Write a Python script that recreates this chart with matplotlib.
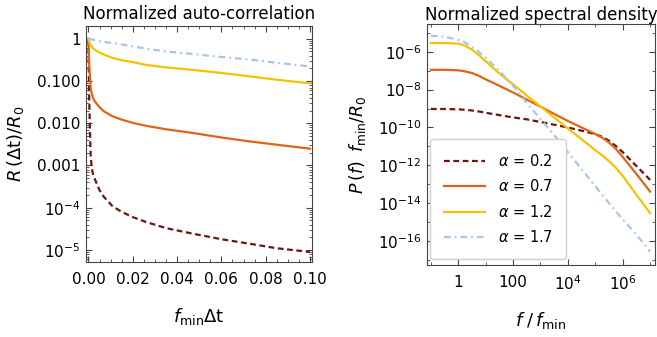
import numpy as np
import matplotlib
matplotlib.use('Agg')
from matplotlib import pyplot as plt
from matplotlib.ticker import FixedLocator, FixedFormatter, NullFormatter

# left panel: normalized auto-correlation vs f_min * dt
dt = [0.0, 0.0003, 0.0007, 0.001, 0.0015, 0.002, 0.003, 0.005, 0.007, 0.011,
      0.015, 0.02, 0.026, 0.035, 0.046, 0.06, 0.073, 0.085, 0.1]
acf_02 = [1, 0.05, 0.006, 0.0018, 8.5e-4, 6.5e-4, 4.6e-4, 2.6e-4, 1.8e-4, 1.07e-4,
          8e-5, 6.0e-5, 4.6e-5, 3.3e-5, 2.5e-5, 1.8e-5, 1.4e-5, 1.1e-5, 9e-6]
acf_07 = [1, 0.3, 0.12, 0.07, 0.05, 0.04, 0.032, 0.024, 0.019, 0.0145,
          0.0122, 0.0102, 0.0087, 0.0072, 0.0060, 0.0046, 0.0037, 0.0031, 0.0025]
acf_12 = [1, 0.85, 0.75, 0.7, 0.65, 0.6, 0.54, 0.47, 0.42, 0.35,
          0.31, 0.28, 0.24, 0.21, 0.185, 0.155, 0.128, 0.107, 0.088]
acf_17 = [1, 0.99, 0.98, 0.97, 0.96, 0.95, 0.93, 0.88, 0.84, 0.79,
          0.73, 0.66, 0.58, 0.50, 0.44, 0.37, 0.32, 0.27, 0.22]

# right panel: normalized spectral density vs f / f_min
freq = [0.1, 0.316, 1, 1.78, 3.16, 5.62, 10, 31.6, 100, 316, 1e3, 3.16e3, 1e4, 3.16e4,
        1e5, 1.78e5, 3.16e5, 5.62e5, 1e6, 3.16e6, 1e7]
psd_02 = [9.5e-10, 9.5e-10, 9.1e-10, 8.6e-10, 7.9e-10, 7.0e-10, 6.0e-10, 4.5e-10, 3.4e-10,
          2.7e-10, 1.95e-10, 1.4e-10, 1.0e-10, 6.8e-11, 4.4e-11, 3.2e-11, 2.0e-11,
          1.05e-11, 5.0e-12, 9.3e-13, 1.7e-13]
psd_07 = [1.12e-7, 1.12e-7, 1.05e-7, 9.2e-8, 7.6e-8, 5.4e-8, 3.5e-8, 1.6e-8, 7.1e-9,
          3.0e-9, 1.26e-9, 5.2e-10, 2.2e-10, 1.0e-10, 4.5e-11, 2.9e-11, 1.6e-11,
          7.4e-12, 2.8e-12, 3.5e-13, 4.1e-14]
psd_12 = [2.9e-6, 2.9e-6, 2.7e-6, 2.1e-6, 1.3e-6, 6.8e-7, 3.2e-7, 7.1e-8, 1.9e-8,
          4.9e-9, 1.3e-9, 3.4e-10, 8.9e-11, 2.4e-11, 6.3e-12, 3.4e-12, 1.66e-12,
          7.4e-13, 2.8e-13, 2.8e-14, 3.0e-15]
psd_17 = [7.1e-6, 6.3e-6, 4.3e-6, 3.1e-6, 1.8e-6, 1.0e-6, 5.0e-7, 1.0e-7, 1.6e-8,
          2.0e-9, 2.8e-10, 4.0e-11, 5.0e-12, 6.3e-13, 7.9e-14, 2.8e-14, 1.0e-14,
          3.8e-15, 1.4e-15, 2.2e-16, 2.7e-17]

labels = [r'$\alpha$ = 0.2', r'$\alpha$ = 0.7', r'$\alpha$ = 1.2', r'$\alpha$ = 1.7']
colors = ['#6e1410', '#df6418', '#f4c300', '#a6c6ec']
styles = [(0, (2.6, 1.6)), '-', '-', (0, (3.0, 1.8, 0.8, 1.8))]

plt.rcParams['font.family'] = 'DejaVu Sans'
plt.rcParams['font.size'] = 11
plt.rcParams['axes.edgecolor'] = '#444444'

fig = plt.figure(figsize=(6.57, 3.37), dpi=100)
ax1 = fig.add_axes([86/657, 1-262/337, 226/657, 236/337])
ax2 = fig.add_axes([427/657, 1-265/337, 228/657, 241/337])

acfs = [acf_02, acf_07, acf_12, acf_17]
psds = [psd_02, psd_07, psd_12, psd_17]
for i in range(4):
    ax1.plot(dt, acfs[i], color=colors[i], ls=styles[i], lw=1.6)
    ax2.plot(freq, psds[i], color=colors[i], ls=styles[i], lw=1.6, label=labels[i])

# left axes
ax1.set_yscale('log')
ax1.set_xlim(-0.0011, 0.1009)
ax1.set_ylim(5.2e-6, 2.0)
ax1.yaxis.set_major_locator(FixedLocator([1, 0.1, 0.01, 0.001, 1e-4, 1e-5]))
ax1.yaxis.set_major_formatter(FixedFormatter(['1', '0.100', '0.010', '0.001',
                                              r'$10^{-4}$', r'$10^{-5}$']))
ax1.yaxis.set_minor_locator(FixedLocator([m * 10.0**e for e in range(-6, 1) for m in range(2, 10)]))
ax1.yaxis.set_minor_formatter(NullFormatter())
ax1.xaxis.set_major_locator(FixedLocator([0, 0.02, 0.04, 0.06, 0.08, 0.1]))
ax1.xaxis.set_major_formatter(FixedFormatter(['0.00', '0.02', '0.04', '0.06', '0.08', '0.10']))
ax1.xaxis.set_minor_locator(FixedLocator(np.arange(0, 0.1001, 0.005)))
ax1.set_title('Normalized auto-correlation', fontsize=12, pad=5)
ax1.set_xlabel(r'$f_{\mathrm{min}}\Delta\mathrm{t}$', fontsize=13, labelpad=14)
ax1.set_ylabel(r'$R\,(\Delta\mathrm{t})/R_0$', fontsize=13, labelpad=8)

# right axes
ax2.set_xscale('log')
ax2.set_yscale('log')
ax2.set_xlim(10**-1.14, 10**7.18)
ax2.set_ylim(10**-17.27, 10**-4.53)
ax2.xaxis.set_major_locator(FixedLocator([1, 100, 1e4, 1e6]))
ax2.xaxis.set_major_formatter(FixedFormatter(['1', '100', r'$10^4$', r'$10^6$']))
ax2.xaxis.set_minor_locator(FixedLocator([0.1, 10, 1e3, 1e5, 1e7]))
ax2.xaxis.set_minor_formatter(NullFormatter())
ax2.yaxis.set_major_locator(FixedLocator([1e-6, 1e-8, 1e-10, 1e-12, 1e-14, 1e-16]))
ax2.yaxis.set_major_formatter(FixedFormatter([r'$10^{-6}$', r'$10^{-8}$', r'$10^{-10}$',
                                              r'$10^{-12}$', r'$10^{-14}$', r'$10^{-16}$']))
ax2.yaxis.set_minor_locator(FixedLocator([1e-5, 1e-7, 1e-9, 1e-11, 1e-13, 1e-15, 1e-17]))
ax2.yaxis.set_minor_formatter(NullFormatter())
ax2.set_title('Normalized spectral density', fontsize=12, pad=3)
ax2.set_xlabel(r'$f\;/\,f_{\mathrm{min}}$', fontsize=13, labelpad=12)
ax2.set_ylabel(r'$P\,(f)\;\;f_{\mathrm{min}}/R_0$', fontsize=12.5, labelpad=7)

leg = ax2.legend(loc='lower left', bbox_to_anchor=(0.013, 0.025), borderaxespad=0,
                 fontsize=10.5, handlelength=2.8, handletextpad=0.9, labelspacing=0.65,
                 borderpad=0.95, fancybox=True, framealpha=1, edgecolor='#d0d0d0')

for ax in (ax1, ax2):
    ax.tick_params(which='both', direction='in', top=True, right=True, color='#444444')
    ax.tick_params(which='major', length=4.5, width=0.8, labelsize=11, pad=7)
    ax.tick_params(which='minor', length=2.5, width=0.6)
ax1.tick_params(axis='y', pad=4)
ax2.tick_params(axis='y', pad=4)

fig.savefig('out.png', dpi=100)
